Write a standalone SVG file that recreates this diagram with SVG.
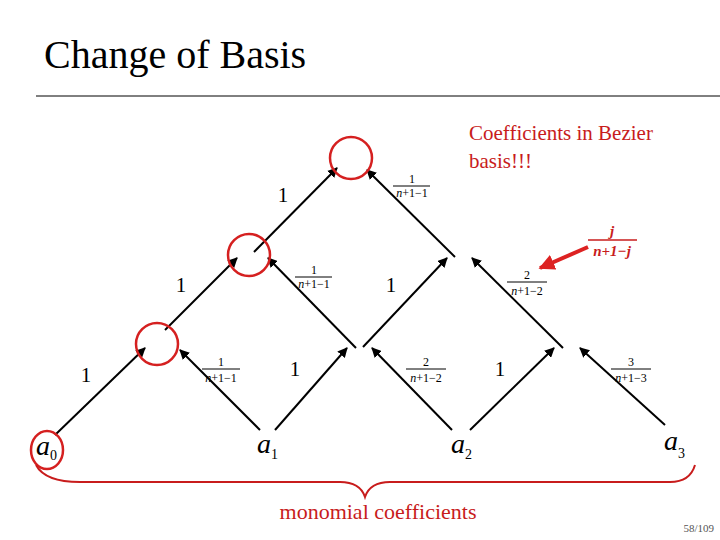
<svg xmlns="http://www.w3.org/2000/svg" width="720" height="540" viewBox="0 0 720 540">
<defs><marker id="ah" viewBox="0 0 10 10" refX="9" refY="5" markerWidth="5" markerHeight="5" orient="auto"><path d="M0,0L10,5L0,10z" fill="#000"/></marker>
<marker id="rh" viewBox="0 0 10 10" refX="9" refY="5" markerWidth="4" markerHeight="4" orient="auto"><path d="M0,0L10,5L0,10z" fill="#d22"/></marker></defs>
<style>
text{font-family:"Times New Roman","Liberation Serif","DejaVu Serif",serif;fill:#000}
.e line{stroke:#000;stroke-width:2;marker-end:url(#ah)}
.c{fill:none;stroke:#d52020;stroke-width:2.5}
text.r{fill:#c81c1c}
.f{font-size:12px;text-anchor:middle}
.o{font-size:21px;text-anchor:middle}
.a{font-size:28px;font-style:italic}
.s{font-size:14px;font-style:normal}
</style>
<rect width="720" height="540" fill="#fff"/>
<text x="44" y="68" font-size="40">Change of Basis</text>
<line x1="36" y1="96" x2="720" y2="96" stroke="#000" stroke-width="1"/>
<g id="connectors" class="e">
<line x1="55" y1="435" x2="145" y2="348"/>
<line x1="260" y1="430" x2="180" y2="350"/>
<line x1="275" y1="430" x2="347" y2="348"/>
<line x1="452" y1="430" x2="372" y2="348"/>
<line x1="470" y1="430" x2="554" y2="348"/>
<line x1="665" y1="425" x2="580" y2="348"/>
<line x1="165" y1="330" x2="237" y2="258"/>
<line x1="356" y1="348" x2="268" y2="258"/>
<line x1="363" y1="347" x2="447" y2="258"/>
<line x1="563" y1="348" x2="472" y2="258"/>
<line x1="254" y1="252" x2="337" y2="168"/>
<line x1="455" y1="257" x2="367" y2="170"/>
</g>
<g id="circles"><circle class="c" cx="157" cy="344" r="21"/><circle class="c" cx="249" cy="255" r="21"/><circle class="c" cx="351" cy="158" r="21"/><ellipse class="c" cx="47" cy="450" rx="16" ry="19"/></g>
<g id="labels">
<text class="o" x="283" y="202">1</text><text class="o" x="181" y="292">1</text><text class="o" x="391" y="292">1</text>
<text class="o" x="86" y="382">1</text><text class="o" x="295" y="376">1</text><text class="o" x="500" y="376">1</text>
<g class="f"><text x="412" y="183">1</text><line x1="393" y1="186" x2="430" y2="186" stroke="#000"/><text x="412" y="197"><tspan font-style="italic">n</tspan>+1−1</text></g>
<g class="f"><text x="314" y="274">1</text><line x1="295" y1="277" x2="332" y2="277" stroke="#000"/><text x="314" y="288"><tspan font-style="italic">n</tspan>+1−1</text></g>
<g class="f"><text x="527" y="279">2</text><line x1="507" y1="282" x2="547" y2="282" stroke="#000"/><text x="527" y="295"><tspan font-style="italic">n</tspan>+1−2</text></g>
<g class="f"><text x="221" y="366">1</text><line x1="202" y1="369" x2="240" y2="369" stroke="#000"/><text x="221" y="382"><tspan font-style="italic">n</tspan>+1−1</text></g>
<g class="f"><text x="426" y="366">2</text><line x1="406" y1="369" x2="446" y2="369" stroke="#000"/><text x="426" y="382"><tspan font-style="italic">n</tspan>+1−2</text></g>
<g class="f"><text x="631" y="366">3</text><line x1="611" y1="369" x2="651" y2="369" stroke="#000"/><text x="631" y="382"><tspan font-style="italic">n</tspan>+1−3</text></g>
</g>
<g id="nodes">
<text class="a" x="36" y="455">a<tspan class="s" dy="5">0</tspan></text>
<text class="a" x="257" y="453">a<tspan class="s" dy="6">1</tspan></text>
<text class="a" x="451" y="453">a<tspan class="s" dy="6">2</tspan></text>
<text class="a" x="664" y="450">a<tspan class="s" dy="8">3</tspan></text>
</g>
<g id="notes">
<text x="469" y="140" font-size="21" class="r">Coefficients in Bezier</text>
<text x="469" y="168" font-size="21" class="r">basis!!!</text>
<text x="612" y="236" font-size="15" font-style="italic" font-weight="bold" text-anchor="middle" class="r">j</text>
<line x1="588" y1="240" x2="637" y2="240" stroke="#c81c1c" stroke-width="1.5"/>
<text x="612" y="256" font-size="15" font-style="italic" font-weight="bold" text-anchor="middle" class="r">n+1−j</text>
<line x1="588" y1="247" x2="540" y2="268" stroke="#d22" stroke-width="4" marker-end="url(#rh)"/>
<path d="M36,465 Q45,482 80,482 L340,482 Q360,482 365,497 Q370,482 390,482 L670,482 Q690,482 695,465" fill="none" stroke="#c81c1c" stroke-width="2"/>
<text x="378" y="519" font-size="22" text-anchor="middle" class="r">monomial coefficients</text>
<text x="714" y="532" font-size="11" text-anchor="end" style="fill:#555">58/109</text>
</g>
</svg>
